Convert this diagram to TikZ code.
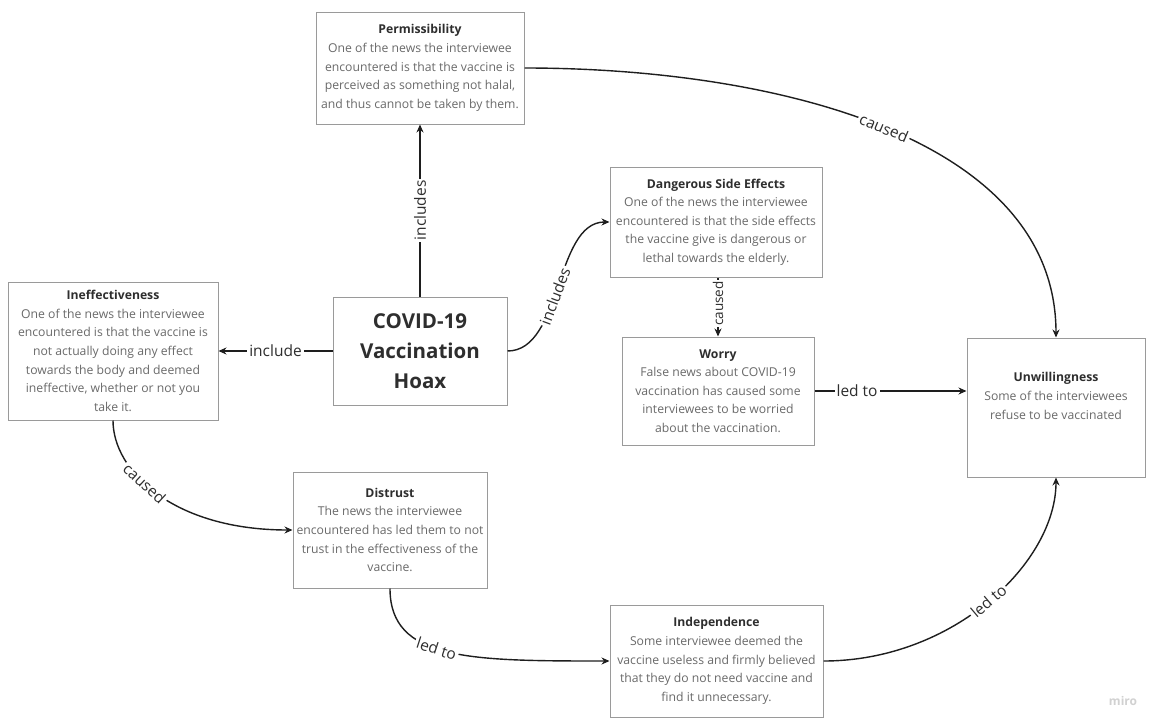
\documentclass[tikz,border=0pt]{standalone}
\usepackage{fontspec}
\setmainfont{Open Sans}
\usetikzlibrary{arrows.meta}
\definecolor{boxline}{HTML}{9A9A9A}
\definecolor{bodytext}{HTML}{6A6A6A}
\definecolor{titletext}{HTML}{2E2E2E}
\definecolor{wire}{HTML}{1E1E1E}
\tikzset{
  card/.style={draw=boxline, line width=1pt, fill=white, align=center,
    inner sep=3pt, text=bodytext, font=\fontsize{12.2}{18.6}\selectfont},
  mainbox/.style={card, text=titletext, font=\bfseries\fontsize{20.5}{30}\selectfont},
  link/.style={draw=wire, line width=1.4pt, -{Stealth[length=8pt,width=7pt]}},
  tag/.style={fill=white, text=titletext, inner sep=2pt, font=\fontsize{15.5}{17}\selectfont},
}
\newcommand{\cardtitle}[1]{{\bfseries\color{titletext}#1}}
\begin{document}
\begin{tikzpicture}[x=1pt, y=-1pt]
\useasboundingbox[fill=white] (0,0) rectangle (1151,720);

% boxes
\node[card, minimum width=208pt, minimum height=112pt] (perm) at (420,68)
  {\cardtitle{Permissibility}\\One of the news the interviewee\\encountered is that the vaccine is\\perceived as something not halal,\\and thus cannot be taken by them.};
\node[card, minimum width=212pt, minimum height=110pt] (danger) at (716,222)
  {\cardtitle{Dangerous Side Effects}\\One of the news the interviewee\\encountered is that the side effects\\the vaccine give is dangerous or\\lethal towards the elderly.};
\node[card, minimum width=210pt, minimum height=138pt] (ineff) at (113,351)
  {\cardtitle{Ineffectiveness}\\One of the news the interviewee\\encountered is that the vaccine is\\not actually doing any effect\\towards the body and deemed\\ineffective, whether or not you\\take it.};
\node[mainbox, minimum width=174pt, minimum height=108pt] (hoax) at (420,351)
  {COVID-19\\Vaccination\\Hoax};
\node[card, minimum width=192pt, minimum height=108pt] (worry) at (718,391)
  {\cardtitle{Worry}\\False news about COVID-19\\vaccination has caused some\\interviewees to be worried\\about the vaccination.};
\node[card, minimum width=178pt, minimum height=139pt] (unw) at (1056,407.5) {};
\node[align=center, text=bodytext, font=\fontsize{12.2}{18.6}\selectfont] (unwtext) at (1056,396)
  {\cardtitle{Unwillingness}\\Some of the interviewees\\refuse to be vaccinated};
\node[card, minimum width=194pt, minimum height=116pt] (distrust) at (390,530)
  {\cardtitle{Distrust}\\The news the interviewee\\encountered has led them to not\\trust in the effectiveness of the\\vaccine.};
\node[card, minimum width=213pt, minimum height=112pt] (indep) at (716.5,661)
  {\cardtitle{Independence}\\Some interviewee deemed the\\vaccine useless and firmly believed\\that they do not need vaccine and\\find it unnecessary.};

% connectors
\draw[link] (hoax.north) -- node[tag, rotate=90] {includes} (perm.south);
\draw[link] (hoax.west) -- node[tag] {include} (ineff.east);
\draw[link] (hoax.east) .. controls +(55,0) and +(-55,0) .. node[tag, sloped, pos=0.45] {includes} (danger.west);
\draw[link] (danger.south -| worry.north) -- node[tag, rotate=90, inner sep=1pt, pos=0.44, font=\fontsize{13.5}{15}\selectfont] {caused} (worry.north);
\draw[link] (worry.east) -- node[tag, pos=0.28] {led to} (worry.east -| unw.west);
\draw[link] (perm.east) .. controls +(250,0) and +(0,-200) .. node[tag, sloped, pos=0.5] {caused} (unw.north);
\draw[link] (ineff.south) .. controls +(0,50) and +(-120,0) .. node[tag, sloped, pos=0.42] {caused} (distrust.west);
\draw[link] (distrust.south) .. controls +(0,72) and +(-140,0) .. node[tag, sloped, pos=0.45] {led to} (indep.west);
\draw[link] (indep.east) .. controls +(130,0) and +(0,85) .. node[tag, sloped, pos=0.5] {led to} (unw.south);

% watermark
\node[text=black!18, font=\bfseries\fontsize{12}{14}\selectfont] (mark) at (1123,701) {miro};
\end{tikzpicture}
\end{document}
